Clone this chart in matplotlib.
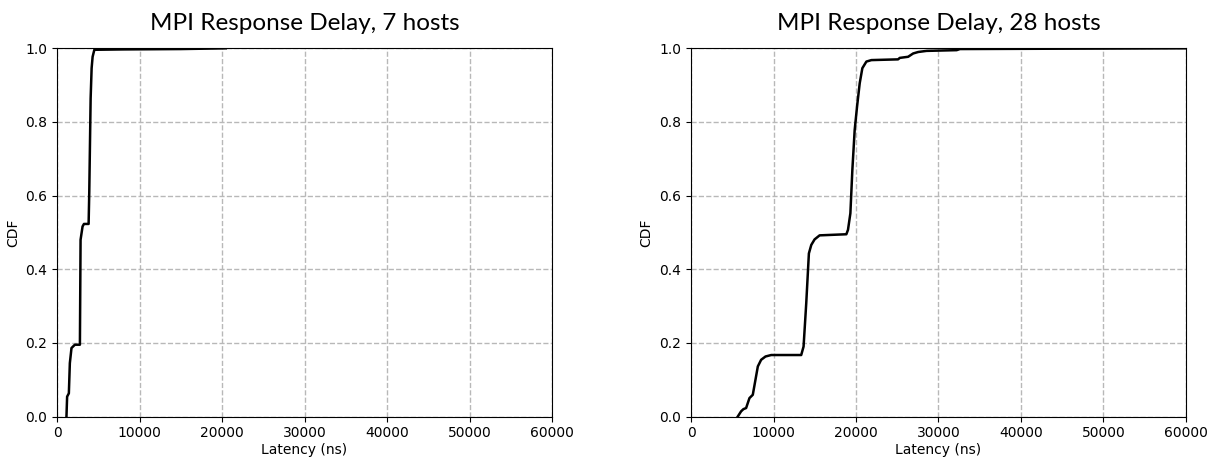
import matplotlib
matplotlib.use("Agg")
import matplotlib.pyplot as plt

# Data (latency in ns, CDF)
lat_7 = [1140, 1220, 1430, 1550, 1750, 2160, 2770, 2850, 3090, 3260, 3825,
         3905, 4070, 4190, 4310, 4520, 8000, 15000, 20450]
cdf_7 = [0.0, 0.054, 0.063, 0.145, 0.186, 0.195, 0.195, 0.48, 0.516, 0.523, 0.523,
         0.61, 0.864, 0.946, 0.977, 0.996, 0.997, 0.998, 1.0]

lat_28 = [5670, 6070, 6350, 6680, 7085, 7490, 7815, 8100, 8500, 9030, 9720,
          13360, 13645, 13970, 14290, 14580, 14980, 15590, 18830, 19030, 19320,
          19560, 19840, 20130, 20450, 20770, 21260, 21870, 25100, 25310, 26320,
          26930, 27540, 28550, 32200, 32600, 45000, 60000]
cdf_28 = [0.0, 0.014, 0.020, 0.023, 0.050, 0.059, 0.100, 0.136, 0.154, 0.163, 0.167,
          0.167, 0.19, 0.308, 0.443, 0.466, 0.481, 0.492, 0.495, 0.507, 0.552,
          0.67, 0.778, 0.842, 0.905, 0.946, 0.964, 0.968, 0.970, 0.974, 0.977,
          0.986, 0.990, 0.993, 0.995, 0.998, 0.999, 1.0]

titles = ["MPI Response Delay, 7 hosts", "MPI Response Delay, 28 hosts"]
xticks = [0, 10000, 20000, 30000, 40000, 50000, 60000]
yticks = [0.0, 0.2, 0.4, 0.6, 0.8, 1.0]

fig = plt.figure(figsize=(12.14, 4.61), dpi=100)
ax1 = fig.add_axes([0.047, 0.0965, 0.4077, 0.7987])
ax2 = fig.add_axes([0.5692, 0.0965, 0.4077, 0.7987])

for ax, xs, ys, title in [(ax1, lat_7, cdf_7, titles[0]), (ax2, lat_28, cdf_28, titles[1])]:
    ax.plot(xs, ys, color="black", linewidth=1.8, zorder=3)
    ax.set_xlim(0, 60000)
    ax.set_ylim(0, 1.0)
    ax.set_xticks(xticks)
    ax.set_yticks(yticks)
    ax.set_xticklabels([str(t) for t in xticks])
    ax.set_yticklabels([f"{t:.1f}" for t in yticks])
    ax.grid(True, linestyle="--", color="#b8b8b8", linewidth=1.0)
    ax.set_axisbelow(True)
    ax.set_xlabel("Latency (ns)", fontsize=10, labelpad=2)
    ax.set_ylabel("CDF", fontsize=10)
    ax.tick_params(labelsize=10)
    ax.set_title(title, fontsize=17.5, family=["Lato", "DejaVu Sans"], pad=13)

fig.savefig("out.png", dpi=100)
